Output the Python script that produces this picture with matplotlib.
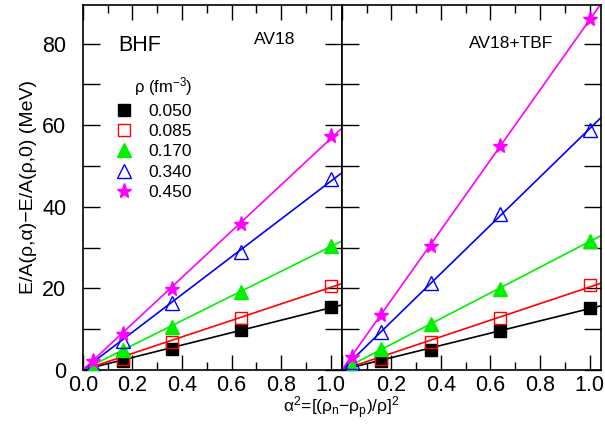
import numpy as np
import matplotlib
matplotlib.use('Agg')
import matplotlib.pyplot as plt
from matplotlib.ticker import MultipleLocator

plt.rcParams['font.family'] = ['Liberation Sans', 'DejaVu Sans']
plt.rcParams['mathtext.fontset'] = 'custom'
plt.rcParams['mathtext.rm'] = 'Liberation Sans'
plt.rcParams['mathtext.it'] = 'Liberation Sans'

# asymmetry alpha^2 values
alpha2 = [0.04, 0.16, 0.36, 0.64, 1.0]
densities = ['0.050', '0.085', '0.170', '0.340', '0.450']
nan = np.nan

# BHF with AV18 (left panel)
av18 = {
    '0.050': [nan, 2.2, 5.2, 9.7, 15.4],
    '0.085': [nan, 2.6, 6.8, 12.8, 20.6],
    '0.170': [0.6, 4.8, 10.6, 19.1, 30.5],
    '0.340': [1.3, 7.0, 16.4, 29.0, 46.8],
    '0.450': [2.3, 8.8, 19.9, 35.7, 57.3],
}
# BHF with AV18 + three-body forces (right panel)
av18_tbf = {
    '0.050': [nan, 2.1, 5.0, 9.5, 15.3],
    '0.085': [nan, 2.7, 6.9, 12.8, 20.7],
    '0.170': [0.6, 5.1, 11.2, 19.9, 31.7],
    '0.340': [2.0, 9.4, 21.4, 38.2, 58.9],
    '0.450': [3.2, 13.4, 30.5, 54.8, 86.1],
}

styles = {
    '0.050': dict(color='black', marker='s', mfc='black', ms=8),
    '0.085': dict(color='red', marker='s', mfc='none', ms=8),
    '0.170': dict(color='#00f000', marker='^', mfc='#00f000', ms=9.5),
    '0.340': dict(color='blue', marker='^', mfc='none', ms=9.5),
    '0.450': dict(color='magenta', marker='*', mfc='magenta', ms=11),
}

fig, axes = plt.subplots(1, 2, figsize=(6.05, 4.43), dpi=100, sharey=True)
fig.subplots_adjust(left=0.137, right=0.993, bottom=0.165, top=0.989, wspace=0)

xmax = 1.045
for ax, data in zip(axes, [av18, av18_tbf]):
    for d in densities:
        st = styles[d]
        y = np.array(data[d])
        x = np.array(alpha2)
        ok = ~np.isnan(y)
        # linear fit through origin
        slope = np.sum(x[ok] * y[ok]) / np.sum(x[ok] * x[ok])
        xl = np.array([0, xmax])
        ax.plot(xl, slope * xl, color=st['color'], lw=1.2, zorder=2)
        ax.plot(x, y, ls='none', marker=st['marker'], color=st['color'],
                mfc=st['mfc'], mec=st['color'], ms=st['ms'], mew=1.0,
                label=d, zorder=3)
    ax.set_xlim(0, xmax)
    ax.set_ylim(0, 89.5)
    ax.xaxis.set_major_locator(MultipleLocator(0.2))
    ax.xaxis.set_minor_locator(MultipleLocator(0.1))
    ax.yaxis.set_major_locator(MultipleLocator(20))
    ax.yaxis.set_minor_locator(MultipleLocator(10))
    ax.tick_params(which='both', direction='in', top=True, right=True,
                   labelsize=15.5, width=1.0)
    ax.tick_params(axis='x', which='major', length=11, pad=4)
    ax.tick_params(axis='x', which='minor', length=6)
    ax.tick_params(axis='y', which='both', length=12, pad=12)
    for sp in ax.spines.values():
        sp.set_linewidth(1.2)

axes[0].set_xticks([0, 0.2, 0.4, 0.6, 0.8, 1.0])
axes[0].set_xticklabels(['0.0', '0.2', '0.4', '0.6', '0.8', '1.0'])
axes[1].set_xticks([0, 0.2, 0.4, 0.6, 0.8, 1.0])
axes[1].set_xticklabels(['', '0.2', '0.4', '0.6', '0.8', '1.0'])
axes[1].tick_params(axis='y', labelleft=False)

axes[0].text(0.135, 0.89, 'BHF', transform=axes[0].transAxes, fontsize=15.5,
             va='center', ha='left')
axes[0].text(0.66, 0.905, 'AV18', transform=axes[0].transAxes, fontsize=12.5,
             va='center', ha='left')
axes[1].text(0.49, 0.893, 'AV18+TBF', transform=axes[1].transAxes, fontsize=12.5,
             va='center', ha='left')

leg = axes[0].legend(loc='upper left', bbox_to_anchor=(0.08, 0.84), frameon=False,
                     fontsize=12.5, title=r'$\rho$ (fm$^{-3}$)', title_fontsize=12,
                     handletextpad=0.9, labelspacing=0.3, handlelength=1.0,
                     borderpad=0.2)
leg._legend_box.align = 'right'

axes[0].set_ylabel('E/A(ρ,α)−E/A(ρ,0) (MeV)', fontsize=14, labelpad=4)
fig.text(341 / 605, 1 - 408 / 443, r'$\alpha^2$=[($\rho_n$−$\rho_p$)/$\rho$]$^2$',
         fontsize=12.5, ha='center', va='center')

fig.savefig('out.png', dpi=100)
